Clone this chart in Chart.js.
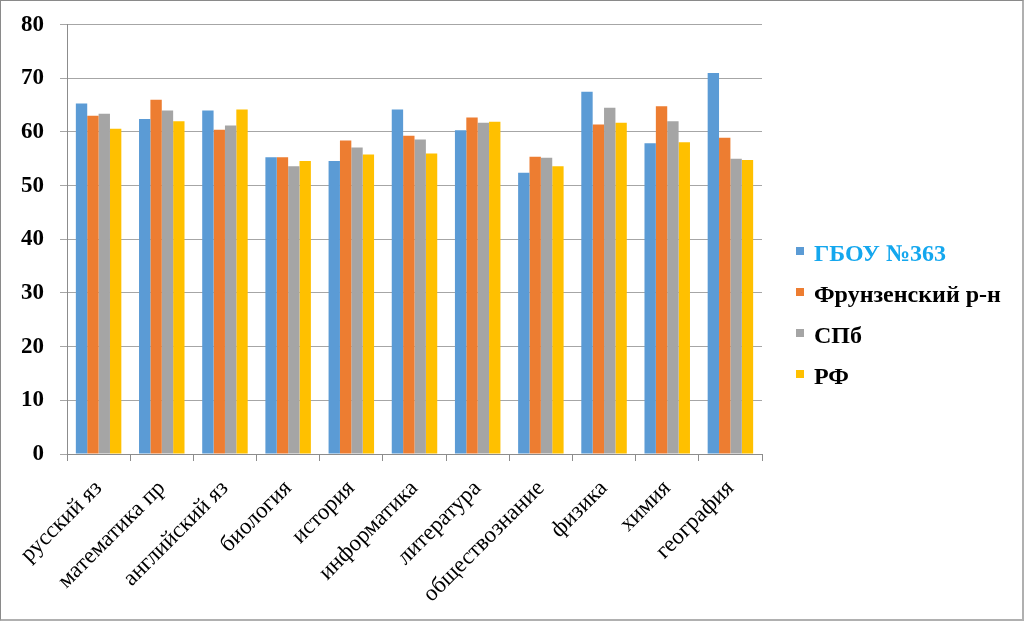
<!DOCTYPE html>
<html>
<head>
<meta charset="utf-8">
<script src="https://cdn.jsdelivr.net/npm/chart.js@4/dist/chart.umd.min.js"></script>
<style>
  html, body { margin: 0; padding: 0; background: #fff; }
  #wrap { position: relative; width: 1024px; height: 621px; overflow: hidden; }
  #c { position: absolute; left: 0; top: 0; }
  #frame { position: absolute; left: 0; top: 0; width: 1024px; height: 621px; box-sizing: border-box;
           border: 1px solid #8a8a8a; border-right-width: 2px; border-bottom-width: 2px; border-right-color:#b0b0b0; border-bottom-color:#b0b0b0; pointer-events: none; }
  #legend { position: absolute; left: 796px; top: 233px; font-family: "Liberation Serif", "Times New Roman", serif;
            font-weight: bold; font-size: 24px; }
  .item { display: flex; align-items: center; height: 41px; }
  .sw { width: 8px; height: 8px; margin-right: 10px; margin-top: -6px; }
</style>
</head>
<body>
<div id="wrap">
  <canvas id="c" width="1024" height="621"></canvas>
  <div id="legend"></div>
  <div id="frame"></div>
</div>
<script>
const categories = ["русский яз", "математика пр", "английский яз", "биология", "история", "информатика", "литература", "обществознание", "физика", "химия", "география"];
const seriesNames = ["ГБОУ №363", "Фрунзенский р-н", "СПб", "РФ"];
const school363 = [65.3, 62.4, 64.0, 55.3, 54.6, 64.2, 60.3, 52.4, 67.5, 57.9, 71.0];
const frunzensky = [63.0, 66.0, 60.4, 55.3, 58.4, 59.3, 62.7, 55.4, 61.4, 64.8, 58.9];
const spb = [63.4, 64.0, 61.2, 53.6, 57.1, 58.6, 61.7, 55.2, 64.5, 62.0, 55.0];
const rf = [60.6, 62.0, 64.2, 54.6, 55.8, 56.0, 61.9, 53.6, 61.7, 58.1, 54.8];
const yTicks = [0, 10, 20, 30, 40, 50, 60, 70, 80];

const colors = ["#5B9BD5", "#ED7D31", "#A5A5A5", "#FFC000"];
const legendTextColors = ["#14A7EE", "#000000", "#000000", "#000000"];
const values = [school363, frunzensky, spb, rf];

const datasets = seriesNames.map((n, i) => ({
  label: n,
  data: values[i],
  backgroundColor: colors[i],
  borderWidth: 0,
  categoryPercentage: 0.72,
  barPercentage: 1.0
}));

new Chart(document.getElementById("c"), {
  type: "bar",
  data: { labels: categories, datasets },
  options: {
    responsive: false,
    animation: false,
    layout: { padding: { top: 10, right: 262, left: 0, bottom: 0 } },
    plugins: { legend: { display: false }, tooltip: { enabled: false } },
    scales: {
      x: {
        grid: { drawOnChartArea: false, drawTicks: true, tickLength: 7, offset: true, color: "#8c8c8c" },
        border: { color: "#8c8c8c", width: 1 },
        ticks: {
          maxRotation: 45, minRotation: 45, autoSkip: false, padding: 14,
          color: "#000",
          font: { family: "'Liberation Serif', 'Times New Roman', serif", size: 23 }
        },
        afterFit: s => { s.height = 167; }
      },
      y: {
        min: 0, max: 80,
        afterBuildTicks: s => { s.ticks = yTicks.map(v => ({ value: v })); },
        grid: { color: "#a6a6a6", tickLength: 7, lineWidth: 1 },
        border: { color: "#8c8c8c", width: 1 },
        ticks: {
          padding: 16, color: "#000",
          font: { family: "'Liberation Serif', 'Times New Roman', serif", size: 23, weight: "bold", lineHeight: 0.75 }
        },
        afterFit: s => { s.width = 67; }
      }
    }
  }
});

const lg = document.getElementById("legend");
seriesNames.forEach((n, i) => {
  const it = document.createElement("div");
  it.className = "item";
  const sw = document.createElement("span");
  sw.className = "sw";
  sw.style.background = colors[i];
  const tx = document.createElement("span");
  tx.textContent = n;
  tx.style.color = legendTextColors[i];
  it.appendChild(sw); it.appendChild(tx);
  lg.appendChild(it);
});
</script>
</body>
</html>
